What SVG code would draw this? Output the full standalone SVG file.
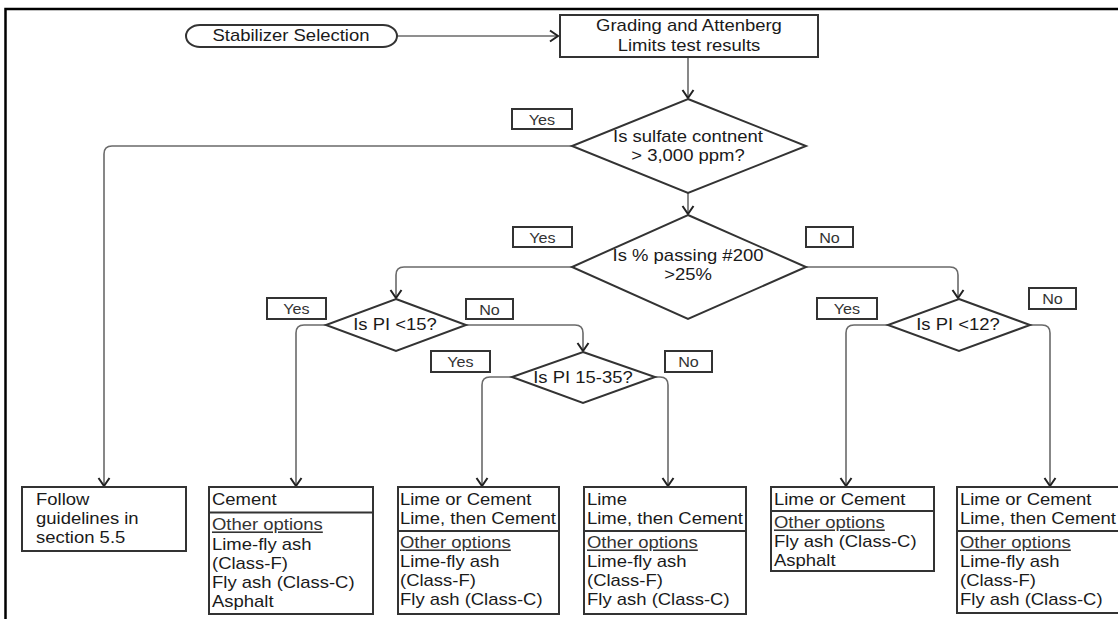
<svg xmlns="http://www.w3.org/2000/svg" width="1118" height="619" viewBox="0 0 1118 619">
<defs>
<style>
.t{font-family:"Liberation Sans",Arial,sans-serif;font-size:16px;fill:#1a1a1a}
.m{text-anchor:middle}
.l{font-family:"Liberation Sans",Arial,sans-serif;font-size:14px;fill:#333;text-anchor:middle}
.u{text-decoration:underline;fill:#333}
.box{fill:#fff;stroke:#333;stroke-width:2}
.dia{fill:#fff;stroke:#333;stroke-width:2;stroke-linejoin:miter}
.lb{fill:#fff;stroke:#333;stroke-width:2}
.div{stroke:#333;stroke-width:2}
.cn{fill:none;stroke:#6a6a6a;stroke-width:1.6}
</style>
<marker id="arr" viewBox="-10 -7 12 14" refX="0" refY="0" markerWidth="12" markerHeight="14" orient="auto" markerUnits="userSpaceOnUse">
<path d="M-8,-5.5 L0,0 L-8,5.5" fill="none" stroke="#222" stroke-width="2"/>
</marker>
</defs>
<rect width="1118" height="619" fill="#fff"/>
<path d="M5.5,619 V9 H1118" fill="none" stroke="#000" stroke-width="2.5"/>

<g id="connectors">
<path class="cn" d="M397,36 H558" marker-end="url(#arr)"/>
<path class="cn" d="M688,58 V98" marker-end="url(#arr)"/>
<path class="cn" d="M688,193 V214" marker-end="url(#arr)"/>
<path class="cn" d="M572,146 H112 Q104,146 104,154 V486" marker-end="url(#arr)"/>
<path class="cn" d="M572,267 H404 Q396,267 396,275 V298" marker-end="url(#arr)"/>
<path class="cn" d="M806,267 H950 Q958,267 958,275 V298" marker-end="url(#arr)"/>
<path class="cn" d="M326,325 H304 Q296,325 296,333 V486" marker-end="url(#arr)"/>
<path class="cn" d="M466,325 H575 Q583,325 583,333 V351" marker-end="url(#arr)"/>
<path class="cn" d="M512,377 H490 Q482,377 482,385 V486" marker-end="url(#arr)"/>
<path class="cn" d="M655,377 H660 Q668,377 668,385 V486" marker-end="url(#arr)"/>
<path class="cn" d="M888,325 H854 Q846,325 846,333 V486" marker-end="url(#arr)"/>
<path class="cn" d="M1030,325 H1042 Q1050,325 1050,333 V486" marker-end="url(#arr)"/>
</g>

<g id="n-start">
<rect x="186" y="25" width="211" height="22" rx="14" ry="11" fill="#fff" stroke="#333" stroke-width="2"/>
<text class="t m" transform="translate(291 0) scale(1.155 1)" x="0" y="41.5">Stabilizer Selection</text>
</g>

<g id="n-grading">
<rect class="box" x="560" y="15" width="258" height="42"/>
<text class="t m" transform="translate(689 0) scale(1.155 1)"><tspan x="0" y="31.5">Grading and Attenberg</tspan><tspan x="0" y="51">Limits test results</tspan></text>
</g>

<g id="n-sulfate">
<polygon class="dia" points="688,99 806,146 688,193 572,146"/>
<text class="t m" transform="translate(688 0) scale(1.155 1)"><tspan x="0" y="142">Is sulfate contnent</tspan><tspan x="0" y="161">&gt; 3,000 ppm?</tspan></text>
</g>

<g id="n-passing">
<polygon class="dia" points="688,215 806,267 688,319 572,267"/>
<text class="t m" transform="translate(688 0) scale(1.155 1)"><tspan x="0" y="261.5">Is % passing #200</tspan><tspan x="0" y="280.5">&gt;25%</tspan></text>
</g>

<g id="n-pi15">
<polygon class="dia" points="396,299 466,325 396,351 326,325"/>
<text class="t m" transform="translate(395 0) scale(1.155 1)" x="0" y="330.5">Is PI &lt;15?</text>
</g>

<g id="n-pi1535">
<polygon class="dia" points="583,352 655,377 583,403 512,377"/>
<text class="t m" transform="translate(583 0) scale(1.155 1)" x="0" y="383">Is PI 15-35?</text>
</g>

<g id="n-pi12">
<polygon class="dia" points="959,299 1030,325 959,351 888,325"/>
<text class="t m" transform="translate(958 0) scale(1.155 1)" x="0" y="330.5">Is PI &lt;12?</text>
</g>

<g id="labels">
<rect class="lb" x="512" y="109" width="60" height="20"/><text class="l" transform="translate(542 0) scale(1.155 1)" x="0" y="125.5">Yes</text>
<rect class="lb" x="513" y="227" width="59" height="20"/><text class="l" transform="translate(542.5 0) scale(1.155 1)" x="0" y="243.5">Yes</text>
<rect class="lb" x="806" y="227" width="47" height="20"/><text class="l" transform="translate(829.5 0) scale(1.155 1)" x="0" y="243.5">No</text>
<rect class="lb" x="267" y="298" width="59" height="21"/><text class="l" transform="translate(296.5 0) scale(1.155 1)" x="0" y="314.5">Yes</text>
<rect class="lb" x="466" y="299" width="47" height="20"/><text class="l" transform="translate(489.5 0) scale(1.155 1)" x="0" y="315">No</text>
<rect class="lb" x="431" y="351" width="59" height="21"/><text class="l" transform="translate(460.5 0) scale(1.155 1)" x="0" y="367.5">Yes</text>
<rect class="lb" x="665" y="351" width="47" height="21"/><text class="l" transform="translate(688.5 0) scale(1.155 1)" x="0" y="367.5">No</text>
<rect class="lb" x="817" y="298" width="60" height="21"/><text class="l" transform="translate(847 0) scale(1.155 1)" x="0" y="314.5">Yes</text>
<rect class="lb" x="1029" y="288" width="47" height="21"/><text class="l" transform="translate(1052.5 0) scale(1.155 1)" x="0" y="304.5">No</text>
</g>

<g id="n-follow">
<rect class="box" x="22" y="487" width="164" height="64"/>
<text class="t" transform="translate(36 0) scale(1.155 1)"><tspan x="0" y="505">Follow</tspan><tspan x="0" y="524">guidelines in</tspan><tspan x="0" y="543">section 5.5</tspan></text>
</g>

<g id="n-cement">
<rect class="box" x="209" y="487" width="164" height="127"/>
<line class="div" x1="209" y1="512.5" x2="373" y2="512.5"/>
<text class="t" transform="translate(212 0) scale(1.155 1)"><tspan x="0" y="505">Cement</tspan><tspan x="0" y="530.5" class="u">Other options</tspan><tspan x="0" y="550">Lime-fly ash</tspan><tspan x="0" y="569">(Class-F)</tspan><tspan x="0" y="588">Fly ash (Class-C)</tspan><tspan x="0" y="607">Asphalt</tspan></text>
</g>

<g id="n-limecement1">
<rect class="box" x="398" y="487" width="161" height="127"/>
<line class="div" x1="398" y1="531" x2="559" y2="531"/>
<text class="t" transform="translate(400 0) scale(1.155 1)"><tspan x="0" y="505.5">Lime or Cement</tspan><tspan x="0" y="524">Lime, then Cement</tspan><tspan x="0" y="548.5" class="u">Other options</tspan><tspan x="0" y="567.5">Lime-fly ash</tspan><tspan x="0" y="586">(Class-F)</tspan><tspan x="0" y="605">Fly ash (Class-C)</tspan></text>
</g>

<g id="n-lime">
<rect class="box" x="584" y="487" width="162" height="127"/>
<line class="div" x1="584" y1="531" x2="746" y2="531"/>
<text class="t" transform="translate(587 0) scale(1.155 1)"><tspan x="0" y="505.5">Lime</tspan><tspan x="0" y="524">Lime, then Cement</tspan><tspan x="0" y="548.5" class="u">Other options</tspan><tspan x="0" y="567.5">Lime-fly ash</tspan><tspan x="0" y="586">(Class-F)</tspan><tspan x="0" y="605">Fly ash (Class-C)</tspan></text>
</g>

<g id="n-limecement2">
<rect class="box" x="771" y="487" width="163" height="84"/>
<line class="div" x1="771" y1="511" x2="934" y2="511"/>
<text class="t" transform="translate(774 0) scale(1.155 1)"><tspan x="0" y="505">Lime or Cement</tspan><tspan x="0" y="528.5" class="u">Other options</tspan><tspan x="0" y="547.5">Fly ash (Class-C)</tspan><tspan x="0" y="566">Asphalt</tspan></text>
</g>

<g id="n-limecement3">
<rect class="box" x="957" y="487" width="166" height="126"/>
<line class="div" x1="957" y1="531" x2="1123" y2="531"/>
<text class="t" transform="translate(960 0) scale(1.155 1)"><tspan x="0" y="505.5">Lime or Cement</tspan><tspan x="0" y="524">Lime, then Cement</tspan><tspan x="0" y="548.5" class="u">Other options</tspan><tspan x="0" y="567.5">Lime-fly ash</tspan><tspan x="0" y="586">(Class-F)</tspan><tspan x="0" y="605">Fly ash (Class-C)</tspan></text>
</g>
</svg>
